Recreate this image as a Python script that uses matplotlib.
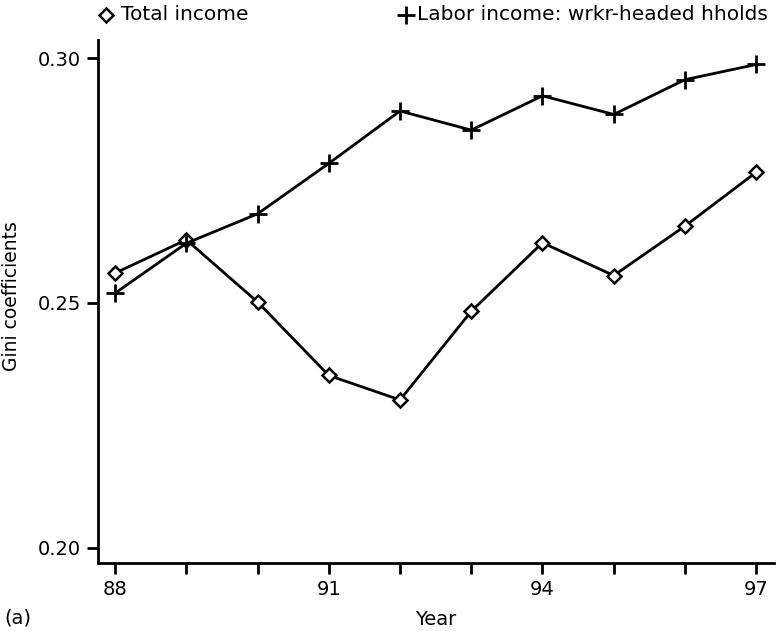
import numpy as np
import matplotlib.pyplot as plt
from matplotlib.lines import Line2D

plt.rcParams['font.family'] = ['DejaVu Sans']

years = [88, 89, 90, 91, 92, 93, 94, 95, 96, 97]
total_income = [0.2561, 0.2629, 0.2502, 0.2352, 0.2302, 0.2483, 0.2623, 0.2556, 0.2657, 0.2767]
labor_income = [0.2520, 0.2622, 0.2682, 0.2785, 0.2892, 0.2853, 0.2923, 0.2885, 0.2956, 0.2987]

W, H = 777, 631
fig = plt.figure(figsize=(W / 100, H / 100), dpi=100)
ax = fig.add_axes([98 / W, 1 - 563 / H, (774 - 98) / W, (563 - 40) / H])

ax.plot(years, total_income, color='black', lw=2, marker='D', ms=7.5,
        mfc='white', mec='black', mew=1.8)
ax.plot(years, labor_income, color='black', lw=2, marker='+', ms=13, mew=2)

ax.set_xlim(87.76, 97.25)
ax.set_ylim(0.1969, 0.3037)
ax.set_xticks(years)
ax.set_xticklabels(['88', '', '', '91', '', '', '94', '', '', '97'])
ax.set_yticks([0.20, 0.25, 0.30])
ax.set_yticklabels(['0.20', '0.25', '0.30'])

for s in ['top', 'right']:
    ax.spines[s].set_visible(False)
for s in ['left', 'bottom']:
    ax.spines[s].set_linewidth(2)
ax.tick_params(direction='out', length=8, width=2, labelsize=14, pad=4)

ax.set_xlabel('Year', fontsize=14, labelpad=8)
ax.set_ylabel('Gini coefficients', fontsize=13.5)
ax.yaxis.set_label_coords((21 - 98) / (774 - 98), 0.51)

# legend entries along the top edge
fig.add_artist(Line2D([106 / W], [1 - 15 / H], marker='D', ms=7.5, mfc='white',
                      mec='black', mew=1.8, transform=fig.transFigure))
fig.text(121 / W, 1 - 15 / H, 'Total income', fontsize=14.5, va='center', ha='left')
fig.add_artist(Line2D([406 / W], [1 - 15 / H], marker='+', ms=13, mew=2,
                      color='black', transform=fig.transFigure))
fig.text(417 / W, 1 - 15 / H, 'Labor income: wrkr-headed hholds', fontsize=14.5,
         va='center', ha='left')

fig.text(4 / W, 1 - 618 / H, '(a)', fontsize=14, va='center', ha='left')

fig.savefig('out.png', dpi=100)
